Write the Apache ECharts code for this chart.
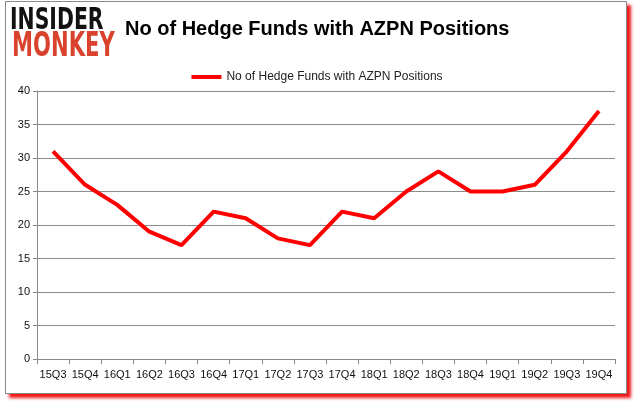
<!DOCTYPE html>
<html><head><meta charset="utf-8">
<script src="https://cdn.jsdelivr.net/npm/echarts@6/dist/echarts.min.js"></script>
<style>
html,body{margin:0;padding:0;background:#fff;}
#frame{position:absolute;left:5px;top:1px;width:620px;height:391px;border:1px solid #8a8a8a;box-shadow:4px 4px 3px #f01818;background:#fff;}
#c{position:absolute;left:0;top:0;width:634px;height:404px;}
</style></head>
<body>
<div id="frame"></div>
<div id="c"></div>
<script>
const categories = ["15Q3","15Q4","16Q1","16Q2","16Q3","16Q4","17Q1","17Q2","17Q3","17Q4","18Q1","18Q2","18Q3","18Q4","19Q1","19Q2","19Q3","19Q4"];
const values = [31,26,23,19,17,22,21,18,17,22,21,25,28,25,25,26,31,37];
const seriesName = "No of Hedge Funds with AZPN Positions";
const titleText = "No of Hedge Funds with AZPN Positions";

const chart = echarts.init(document.getElementById('c'), null, {renderer:'canvas'});
chart.setOption({
  animation:false,
  backgroundColor:'transparent',
  title:{text:titleText,left:120,top:14,textStyle:{fontFamily:'Liberation Sans',fontWeight:'bold',fontSize:20,color:'#000'}},
  graphic:[
    {type:'text',x:10,y:6,scaleX:0.68,style:{text:'INSIDER',font:'bold 30px "DejaVu Sans"',fill:'#111'}},
    {type:'text',x:12,y:31,scaleX:0.64,style:{text:'MONKEY',font:'bold 33px "DejaVu Sans"',fill:'#d9432e'}}
  ],
  legend:{top:66,left:'center',itemWidth:30,itemHeight:4,icon:'rect',textStyle:{fontFamily:'Liberation Sans',fontSize:12,color:'#222'},data:[seriesName]},
  grid:{left:37,right:19,top:91,bottom:45,containLabel:false},
  xAxis:{type:'category',data:categories,boundaryGap:true,
    axisLine:{lineStyle:{color:'#888'}},axisTick:{show:true,length:5,lineStyle:{color:'#888'},alignWithLabel:false},
    axisLabel:{color:'#111',fontFamily:'Liberation Sans',fontSize:11,margin:10,interval:0}},
  yAxis:{type:'value',min:0,max:40,interval:5,
    axisLine:{show:true,lineStyle:{color:'#888'}},axisTick:{show:true,length:4,lineStyle:{color:'#888'}},
    axisLabel:{color:'#111',fontFamily:'Liberation Sans',fontSize:11,margin:7},
    splitLine:{lineStyle:{color:'#8c8c8c',width:1}}},
  series:[{name:seriesName,type:'line',data:values,symbol:'none',lineStyle:{color:'#ff0000',width:4},itemStyle:{color:'#ff0000'}}]
});
</script>
</body></html>
